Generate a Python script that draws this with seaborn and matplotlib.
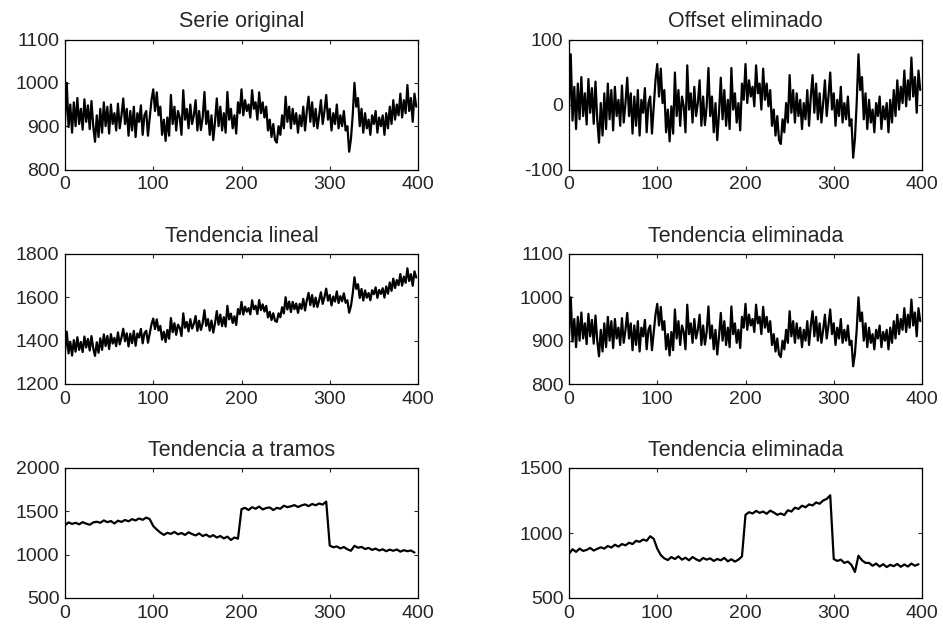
import numpy as np
import pandas as pd
import matplotlib
matplotlib.use("Agg")
import matplotlib.pyplot as plt
import seaborn as sns

# ---- data ----
t_fine = list(range(0, 400, 2))      # 200 samples
serie_original = [
    910, 1000, 898, 950, 885, 955, 900, 965, 905, 940,
    892, 962, 910, 948, 893, 958, 900, 864, 925, 875,
    940, 885, 955, 900, 945, 883, 950, 905, 930, 890,
    952, 895, 925, 964, 905, 940, 878, 935, 890, 945,
    875, 930, 910, 948, 880, 925, 935, 878, 920, 960,
    985, 935, 978, 925, 945, 880, 915, 866, 920, 878,
    972, 905, 945, 890, 935, 920, 880, 983, 915, 940,
    895, 950, 905, 925, 960, 890, 935, 891, 920, 979,
    905, 935, 880, 925, 868, 910, 964, 900, 945, 890,
    930, 885, 979, 915, 940, 895, 925, 883, 955, 930,
    985, 925, 960, 935, 950, 920, 983, 940, 955, 915,
    978, 930, 955, 920, 945, 890, 915, 875, 905, 868,
    862, 900, 880, 925, 895, 968, 910, 945, 895, 940,
    905, 930, 885, 925, 900, 945, 890, 935, 968, 910,
    955, 900, 940, 895, 925, 960, 905, 935, 972, 915,
    940, 890, 930, 905, 950, 895, 925, 900, 935, 890,
    900, 841, 870, 925, 1000, 945, 965, 900, 940, 885,
    930, 895, 915, 880, 925, 905, 935, 885, 920, 900,
    925, 880, 930, 895, 945, 905, 960, 915, 950, 925,
    975, 920, 960, 930, 995, 935, 965, 910, 975, 945,
]
# linear trend added in "Tendencia lineal" (value at t=0 and slope per sample)
trend_start = 440
trend_slope = 0.77

t_coarse = list(range(0, 400, 4))    # 100 samples
tendencia_tramos = [
    1340, 1372, 1355, 1368, 1350, 1375, 1358, 1345, 1372, 1380,
    1368, 1395, 1375, 1388, 1360, 1392, 1378, 1400, 1385, 1410,
    1395, 1418, 1402, 1428, 1410, 1330, 1290, 1255, 1228, 1252,
    1240, 1262, 1235, 1250, 1228, 1258, 1238, 1222, 1245, 1215,
    1232, 1205, 1225, 1198, 1215, 1188, 1208, 1170, 1198, 1185,
    1525, 1540, 1515, 1548, 1530, 1555, 1522, 1538, 1545, 1515,
    1540, 1530, 1565, 1548, 1558, 1572, 1550, 1568, 1580, 1560,
    1585, 1570, 1590, 1578, 1612,
    1105, 1085, 1095, 1072, 1088, 1062, 1045, 1102, 1080, 1090,
    1065, 1078, 1055, 1070, 1048, 1062, 1040, 1058, 1045, 1060,
    1035, 1052, 1040, 1048, 1025,
]
tramos_eliminada = [
    840, 875, 855, 880, 862, 870, 885, 865, 878, 890,
    880, 900, 888, 910, 895, 915, 905, 925, 915, 940,
    932, 950, 940, 975, 955, 880, 830, 805, 792, 815,
    800, 820, 795, 810, 790, 815, 798, 785, 808, 795,
    805, 785, 800, 790, 808, 782, 798, 780, 795, 820,
    1140, 1160, 1150, 1170, 1155, 1165, 1148, 1172, 1158, 1140,
    1150, 1138, 1175, 1165, 1195, 1185, 1210, 1198, 1220, 1212,
    1235, 1225, 1250, 1262, 1290,
    800, 785, 795, 770, 780, 755, 700, 825, 790, 770,
    770, 748, 765, 742, 760, 738, 755, 745, 762, 740,
    758, 742, 765, 748, 760,
]

titles = ["Serie original", "Offset eliminado",
          "Tendencia lineal", "Tendencia eliminada",
          "Tendencia a tramos", "Tendencia eliminada"]
ylims = [(800, 1100), (-100, 100), (1200, 1800), (800, 1100), (500, 2000), (500, 1500)]
yticks = [[800, 900, 1000, 1100], [-100, 0, 100], [1200, 1400, 1600, 1800],
          [800, 900, 1000, 1100], [500, 1000, 1500, 2000], [500, 1000, 1500]]
xticks = [0, 100, 200, 300, 400]

# ---- derived series ----
orig = np.array(serie_original, dtype=float)
tf = np.array(t_fine, dtype=float)
offset_eliminado = orig - orig.mean()
tendencia_lineal = orig + trend_start + trend_slope * tf

series = [
    (t_fine, orig),
    (t_fine, offset_eliminado),
    (t_fine, tendencia_lineal),
    (t_fine, orig),
    (t_coarse, np.array(tendencia_tramos, dtype=float)),
    (t_coarse, np.array(tramos_eliminada, dtype=float)),
]

sns.set_style("ticks")
plt.rcParams["font.family"] = ["Liberation Sans", "DejaVu Sans"]
plt.rcParams["axes.unicode_minus"] = False

fig = plt.figure(figsize=(9.43, 6.24), dpi=100)
W, H = 943.0, 624.0
col_left = [65 / W, 569 / W]
col_w = 353 / W
row_bottom = [1 - 169.5 / H, 1 - 384 / H, 1 - 598 / H]
row_h = 130 / H

for i, (x, y) in enumerate(series):
    r, c = divmod(i, 2)
    ax = fig.add_axes([col_left[c], row_bottom[r], col_w, row_h])
    df = pd.DataFrame({"t": x, "v": y})
    sns.lineplot(data=df, x="t", y="v", ax=ax, color="black",
                 linewidth=1.6, estimator=None)
    ax.set_xlim(0, 400)
    ax.set_ylim(*ylims[i])
    ax.set_xticks(xticks)
    ax.set_yticks(yticks[i])
    ax.set_xlabel("")
    ax.set_ylabel("")
    ax.set_title(titles[i], fontsize=15.5, pad=9)
    ax.tick_params(direction="in", length=3, width=0.8, labelsize=14,
                   top=True, right=True, pad=5)
    ax.tick_params(axis="y", pad=4)
    for s in ax.spines.values():
        s.set_visible(True)
        s.set_linewidth(0.9)
        s.set_color("black")

fig.savefig("out.png", dpi=100, facecolor="white")
